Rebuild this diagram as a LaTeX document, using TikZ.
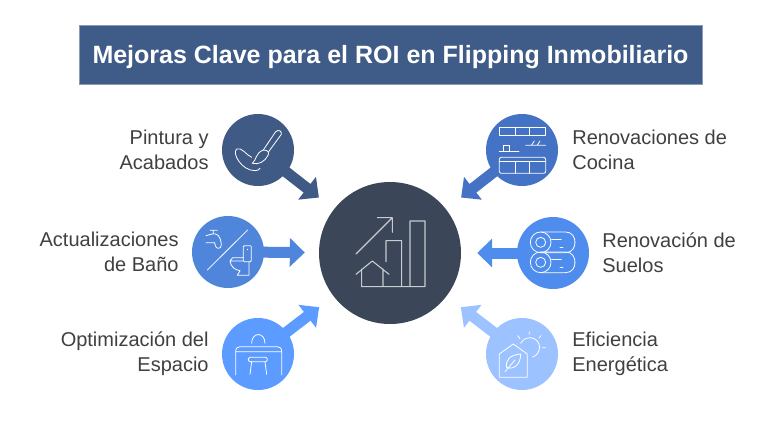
\documentclass[tikz,border=0pt]{standalone}
\usepackage{fontspec}
\setmainfont{Liberation Sans}
\usetikzlibrary{positioning,arrows.meta}
\definecolor{titleblue}{HTML}{3F5B87}
\definecolor{titleedge}{HTML}{8C9BB5}
\definecolor{brushblue}{HTML}{3F5A85}
\definecolor{bathblue}{HTML}{4F86DC}
\definecolor{deskblue}{HTML}{5C9BFF}
\definecolor{hubgray}{HTML}{3B4658}
\definecolor{kitchenblue}{HTML}{4472C4}
\definecolor{floorblue}{HTML}{4E8CED}
\definecolor{energyblue}{HTML}{9CC2FF}
\definecolor{labelgray}{HTML}{404040}
\tikzset{
  topic/.style={circle,fill=#1,minimum size=72pt,inner sep=0pt},
  flow/.style={draw=#1,line width=11pt,-{Triangle[length=15pt,width=28pt]}},
  caption/.style={font=\fontsize{20}{25}\selectfont,text=labelgray,inner sep=0pt},
  iconline/.style={draw=white,line width=.8pt,line cap=round,line join=round},
  iconscale/.style={x=.3333pt,y=-.3333pt}
}
\begin{document}
\begin{tikzpicture}[x=1pt,y=-1pt]
\useasboundingbox (0,0) rectangle (769,439);
\node [rectangle,draw=titleedge,fill=titleblue,minimum width=623pt,minimum height=59pt,text=white,font=\bfseries\fontsize{25}{28}\selectfont,text depth=3pt,text height=21pt] (title) at (390.5,54.5) {Mejoras Clave para el ROI en Flipping Inmobiliario};
\node [circle,fill=hubgray,minimum size=142pt,inner sep=0pt] (hub) at (390,253) {};
\node [topic=brushblue] (brush) at (258,150) {};
\node [topic=bathblue] (bath) at (228,252) {};
\node [topic=deskblue] (desk) at (258,354) {};
\node [topic=kitchenblue] (kitchen) at (522,150) {};
\node [topic=floorblue] (floors) at (553,253) {};
\node [topic=energyblue] (energy) at (522,354) {};
\node [caption,align=right,left=13pt of brush] (brushtext) {Pintura y\\Acabados};
\node [caption,align=right,left=13pt of bath] (bathtext) {Actualizaciones\\de Baño};
\node [caption,align=right,left=13pt of desk] (desktext) {Optimización del\\Espacio};
\node [caption,align=left,right=14pt of kitchen] (kitchentext) {Renovaciones de\\Cocina};
\node [caption,align=left,right=13pt of floors] (floorstext) {Renovación de\\Suelos};
\node [caption,align=left,right=14pt of energy] (energytext) {Eficiencia\\Energética};
\draw [flow=brushblue,shorten >=19pt] (brush.center) -- (hub);
\draw [flow=bathblue,shorten >=14pt] (bath.center) -- (hub);
\draw [flow=deskblue,shorten >=18pt] (desk.center) -- (hub);
\draw [flow=kitchenblue,shorten >=19pt] (kitchen.center) -- (hub);
\draw [flow=floorblue,shorten >=16pt] (floors.center) -- (hub);
\draw [flow=energyblue,shorten >=18pt] (energy.center) -- (hub);
\begin{scope}[shift={(315,175)},iconscale]
\draw [iconline,draw=white!72!hubgray,line width=1.1pt] (123,237) -- (232,128) (187,128) -- (232,128) -- (232,172)
  (213,260) -- (213,197) -- (260,197) -- (260,335)
  (285,335) -- (285,138) -- (330,138) -- (330,335) -- (140,335) -- (140,282)
  (123,298) -- (172,258) -- (222,298) (204,282) -- (204,335);
\end{scope}
\begin{scope}[shift={(210,100)},iconscale]
\draw [iconline] (197,95) .. controls (205,88) and (216,92) .. (214,103) -- (176,155) (197,95) -- (160,150);
\draw [iconline] (160,150) .. controls (175,150) and (178,158) .. (174,166) .. controls (165,185) and (145,195) .. (127,190) .. controls (140,180) and (135,160) .. (160,150);
\draw [iconline] (125,172) .. controls (108,165) and (95,140) .. (80,147) .. controls (65,160) and (95,212) .. (135,212) .. controls (143,212) and (148,209) .. (150,205);
\end{scope}
\begin{scope}[shift={(180,205)},iconscale]
\draw [iconline] (82,195) -- (203,75);
\draw [iconline] (90,76) -- (112,76) (100,76) -- (100,86) (78,92) -- (96,87) .. controls (110,84) and (122,90) .. (124,120) .. controls (124,133) and (108,133) .. (106,122) -- (104,113) -- (78,113);
\draw [iconline,rounded corners=1pt] (190,122) rectangle (214,170);
\draw [iconline] (202,133) -- (202,134);
\draw [iconline] (190,158) -- (158,158) -- (150,168) .. controls (152,185) and (165,195) .. (180,197) -- (172,211) -- (207,211) -- (207,170) (150,168) -- (190,168);
\end{scope}
\begin{scope}[shift={(210,295)},iconscale]
\draw [iconline] (125,145) .. controls (125,110) and (165,110) .. (165,145);
\draw [iconline] (77,240) -- (77,170) .. controls (77,160) and (82,155) .. (90,155) -- (202,155) .. controls (210,155) and (215,160) .. (215,170) -- (215,240) (77,170) -- (215,170);
\draw [iconline,rounded corners=2pt] (115,187) rectangle (172,200);
\draw [iconline] (125,200) -- (120,238) (165,200) -- (170,238);
\end{scope}
\begin{scope}[shift={(455,105)},iconscale]
\draw [iconline] (133,68) rectangle (272,92) (182,68) -- (182,92) (224,68) -- (224,92);
\draw [iconline] (212,121) -- (272,121) (230,120) -- (238,108) (247,120) -- (255,108);
\draw [iconline] (133,139) -- (192,139) (146,139) -- (146,121) -- (163,121) -- (163,139);
\draw [iconline,rounded corners=2pt] (133,157) rectangle (272,205);
\draw [iconline] (133,170) -- (272,170) (182,170) -- (182,205) (224,170) -- (224,205);
\end{scope}
\begin{scope}[shift={(470,210)},iconscale]
\foreach \rollx/\rolly in {212/97,212/157} {
  \draw [iconline] (\rollx,\rolly) circle (31) (\rollx,\rolly) circle (15);
  \draw [iconline] (\rollx,\rolly-31) -- (\rollx+75,\rolly-31) .. controls (\rollx+95,\rolly-31) and (\rollx+103,\rolly-15) .. (\rollx+103,\rolly);
  \draw [iconline] (\rollx,\rolly+31) -- (\rollx+75,\rolly+31) .. controls (\rollx+95,\rolly+31) and (\rollx+103,\rolly+15) .. (\rollx+103,\rolly);
  \draw [iconline] (\rollx+33,\rolly-10) -- (\rollx+62,\rolly-10) (\rollx+58,\rolly+15) -- (\rollx+67,\rolly+15);
}
\end{scope}
\begin{scope}[shift={(455,300)},iconscale]
\draw [iconline] (133,232) -- (133,162) -- (175,132) -- (217,162) -- (217,232) -- cycle;
\draw [iconline] (197,162) .. controls (165,165) and (150,180) .. (155,203) .. controls (180,210) and (197,190) .. (197,162) (150,215) -- (180,180);
\draw [iconline] (197,130) .. controls (210,105) and (250,108) .. (254,140) .. controls (254,155) and (245,168) .. (233,171);
\draw [iconline] (188,107) -- (195,116) (223,95) -- (223,103) (258,107) -- (252,114) (272,143) -- (262,143);
\end{scope}
\end{tikzpicture}
\end{document}
